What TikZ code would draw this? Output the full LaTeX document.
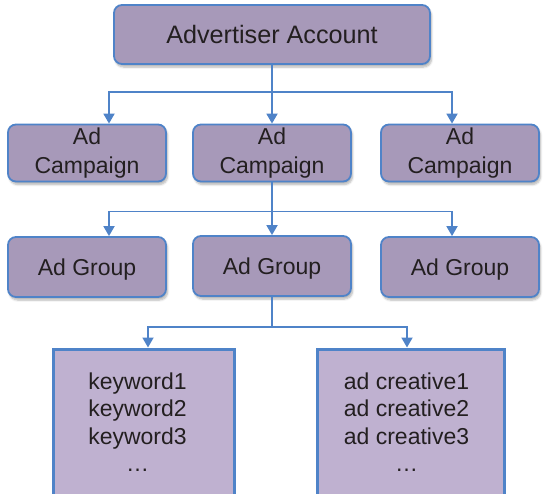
\documentclass[tikz,border=0pt]{standalone}
\usepackage{fontspec}
\setmainfont{Liberation Sans}
\usetikzlibrary{arrows.meta,shadows.blur,calc}
\definecolor{boxfill}{HTML}{A799B9}
\definecolor{boxfilltwo}{HTML}{BFB1D0}
\definecolor{edgeblue}{HTML}{4F83C8}
\definecolor{ink}{HTML}{231F20}
\begin{document}
\begin{tikzpicture}[x=1pt,y=-1pt,
  rbox/.style={draw=edgeblue, line width=1.8pt, fill=boxfill, rounded corners=8pt,
    inner sep=0pt, text=ink, align=center, minimum width=158pt,
    blur shadow={shadow xshift=1.5pt, shadow yshift=-3pt, shadow opacity=30, shadow blur steps=6}},
  sbox/.style={draw=edgeblue, line width=3pt, fill=boxfilltwo, inner sep=0pt,
    minimum height=148pt},
  btext/.style={inner sep=0pt, text=ink, align=center,
    font=\fontsize{23}{27.5}\selectfont},
  oneline/.style={font=\fontsize{23}{27}\selectfont, text height=16.5pt, text depth=0pt},
  twoline/.style={font=\fontsize{23}{29}\selectfont},
  conn/.style={draw=edgeblue, line width=1.8pt},
  arr/.style={conn, -{Triangle[width=11pt,length=10pt]}}
]
\useasboundingbox (0,0) rectangle (545,493);

% top
\node[rbox, minimum width=316pt, minimum height=59pt,
      font=\fontsize{25.2}{29}\selectfont, text height=18pt, text depth=0pt]
  (top) at (272,34.5) {Advertiser Account};

% campaigns
\node[rbox, twoline, minimum height=57pt] (c1) at (87,153) {Ad\\Campaign};
\node[rbox, twoline, minimum height=57pt] (c2) at (272,153) {Ad\\Campaign};
\node[rbox, twoline, minimum height=57pt] (c3) at (460,153) {Ad\\Campaign};

% groups
\node[rbox, oneline, minimum height=60pt] (g1) at (87,267) {Ad Group};
\node[rbox, oneline, minimum height=60pt] (g2) at (272,266) {Ad Group};
\node[rbox, oneline, minimum height=60pt] (g3) at (460,267) {Ad Group};

% bottom boxes
\node[sbox, minimum width=181pt] (k) at (143.5,423) {};
\node[btext] (kt) at ($(k.center)+(-6,-1)$) {keyword1\\keyword2\\keyword3\\…};
\node[sbox, minimum width=187pt] (a) at (410.5,423) {};
\node[btext] (at) at ($(a.center)+(-4,-1)$) {ad creative1\\ad creative2\\ad creative3\\…};

% level 1 connectors
\draw[conn] (top.south) -- ($(top.south)+(0,27)$) coordinate (j1);
\draw[arr] (j1) -| ($(c1.north)+(22,0)$);
\draw[arr] (j1) -| ($(c3.north)+(-8,0)$);
\draw[arr] (top.south) -- (c2.north);

% level 2 connectors
\draw[conn] (c2.south) -- ($(c2.south)+(0,29)$) coordinate (j2);
\draw[arr] (j2) -| ($(g1.north)+(22,0)$);
\draw[arr] (j2) -| ($(g3.north)+(-8,0)$);
\draw[arr] (c2.south) -- (g2.north);

% level 3 connectors
\draw[conn] (g2.south) -- ($(g2.south)+(0,30)$) coordinate (j3);
\draw[arr] (j3) -| ($(k.north)+(4.5,0)$);
\draw[arr] (j3) -| ($(a.north)+(-3.5,0)$);
\end{tikzpicture}
\end{document}
